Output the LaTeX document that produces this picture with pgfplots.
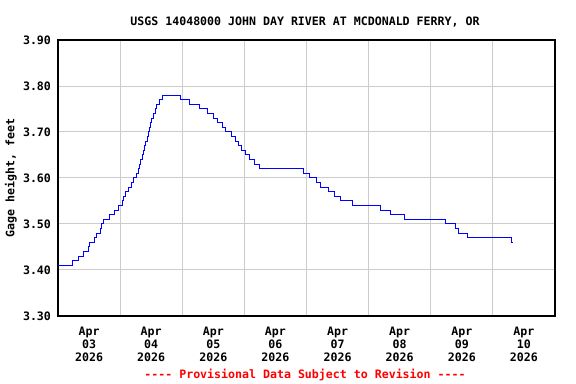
\documentclass[border=0pt]{standalone}
\usepackage{fontspec}
\setmainfont{DejaVu Sans Mono}[Ligatures=TeXOff]
\usepackage{pgfplots}
\pgfplotsset{compat=1.18}
\definecolor{gridgray}{RGB}{204,204,204}
\definecolor{gageblue}{RGB}{0,0,255}
\definecolor{provred}{RGB}{255,0,0}
\begin{document}
\begin{tikzpicture}
\path[use as bounding box] (-43.5pt,-51pt) rectangle (388.5pt,237pt);
\begin{axis}[
  at={(0pt,0pt)}, anchor=south west,
  scale only axis, width=372.75pt, height=207pt,
  xmin=0, xmax=8, ymin=3.30, ymax=3.90,
  axis line style={line width=1.5pt, black},
  xtick={0.5,1.5,2.5,3.5,4.5,5.5,6.5,7.5},
  xticklabels={{Apr\\03\\2026},{Apr\\04\\2026},{Apr\\05\\2026},{Apr\\06\\2026},{Apr\\07\\2026},{Apr\\08\\2026},{Apr\\09\\2026},{Apr\\10\\2026}},
  minor xtick={1,2,3,4,5,6,7},
  xminorgrids=true, xmajorgrids=false,
  ytick={3.3,3.4,3.5,3.6,3.7,3.8,3.9},
  ymajorgrids=true,
  minor grid style={gridgray, line width=0.75pt},
  major grid style={gridgray, line width=0.75pt},
  major tick length=0pt, minor tick length=0pt,
  /pgf/number format/assume math mode=true,
  yticklabel style={/pgf/number format/fixed, /pgf/number format/fixed zerofill, /pgf/number format/precision=2, font=\fontsize{8.7}{9.75}\selectfont\bfseries, xshift=-1.75pt},
  xticklabel style={align=center, font=\fontsize{8.7}{9.75}\selectfont\bfseries, yshift=-5pt},
  ylabel={Gage height, feet},
  ylabel style={at={(axis description cs:-0.0946,0.5)}, anchor=center, font=\fontsize{8.7}{10}\selectfont\bfseries},
  title={USGS 14048000 JOHN DAY RIVER AT MCDONALD FERRY, OR},
  title style={at={(axis description cs:0.497,1.038)}, anchor=center, font=\fontsize{8.7}{10}\selectfont\bfseries},
  clip=false,
]
\addplot[const plot, gageblue, line width=0.75pt] coordinates {
(0,3.41) (0.226,3.42) (0.323,3.43) (0.404,3.44) (0.484,3.45) (0.511,3.46)
(0.581,3.47) (0.619,3.48) (0.683,3.49) (0.700,3.50) (0.732,3.51) (0.823,3.52)
(0.904,3.53) (0.979,3.54) (1.038,3.55) (1.060,3.56) (1.087,3.57) (1.130,3.58)
(1.183,3.59) (1.221,3.60) (1.264,3.61) (1.302,3.62) (1.318,3.63) (1.329,3.64)
(1.355,3.65) (1.371,3.66) (1.398,3.67) (1.415,3.68) (1.436,3.69) (1.458,3.70)
(1.468,3.71) (1.490,3.72) (1.511,3.73) (1.533,3.74) (1.565,3.75) (1.587,3.76)
(1.630,3.77) (1.678,3.78) (1.974,3.77) (2.120,3.76) (2.270,3.75) (2.400,3.74)
(2.510,3.73) (2.560,3.72) (2.640,3.71) (2.700,3.70) (2.800,3.69) (2.850,3.68)
(2.910,3.67) (2.960,3.66) (3.020,3.65) (3.090,3.64) (3.170,3.63) (3.240,3.62)
(3.950,3.61) (4.050,3.60) (4.160,3.59) (4.220,3.58) (4.355,3.57) (4.452,3.56)
(4.544,3.55) (4.748,3.54) (5.189,3.53) (5.360,3.52) (5.580,3.51) (6.240,3.50)
(6.400,3.49) (6.440,3.48) (6.585,3.47) (7.300,3.46) (7.330,3.46)
};
\node[font=\fontsize{8.7}{10}\selectfont\bfseries, text=provred, anchor=center] at (axis description cs:0.497,-0.2138) {---- Provisional Data Subject to Revision ----};
\end{axis}
\end{tikzpicture}
\end{document}
